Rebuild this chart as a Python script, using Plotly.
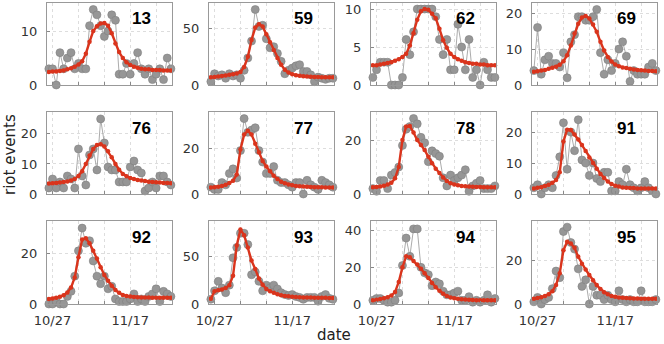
import pandas as pd
import plotly.graph_objects as go
from plotly.subplots import make_subplots

# daily riot events per department (grey) and the fitted curve (red)
dates = pd.date_range("2005-10-26", periods=34)

departments = ["13", "59", "62", "69", "76", "77", "78", "91", "92", "93", "94", "95"]

events_13 = [3, 3, 0, 6, 3, 5, 6, 3, 4, 3, 3, 11, 14, 13, 11, 9, 10, 13, 12, 2, 2, 4, 2, 4, 6, 3, 2, 3, 1, 2, 3, 1, 5, 3]
fit_13 = [2.4, 2.5, 2.5, 2.6, 2.7, 2.9, 3.1, 3.4, 3.8, 4.4, 5.8, 8.0, 10.0, 10.9, 11.4, 11.5, 11.0, 9.6, 7.7, 6.1,
          5.0, 4.2, 3.7, 3.4, 3.2, 3.0, 2.9, 2.9, 2.8, 2.8, 2.8, 2.7, 2.7, 2.7]

events_59 = [3, 10, 8, 9, 6, 10, 8, 9, 6, 13, 24, 39, 67, 52, 53, 41, 33, 34, 28, 21, 10, 13, 15, 17, 18, 12, 12, 9, 3, 7, 6, 5, 6, 6]
fit_59 = [6.8, 7.2, 7.6, 8.0, 8.5, 9.0, 9.6, 10.3, 11.5, 16, 25, 40, 51, 54, 52, 45, 38, 31, 24, 18,
          13.5, 11, 9.5, 8.7, 8.2, 7.8, 7.5, 7.3, 7.1, 7.0, 6.9, 6.8, 6.8, 6.8]

events_62 = [1, 2, 3, 3, 3, 0, 0, 0, 1, 6, 4, 7, 10, 10, 10, 10, 10, 9, 6, 4, 6, 2, 2, 8, 5, 2, 6, 1, 2, 0, 3, 2, 1, 1]
fit_62 = [2.6, 2.6, 2.7, 2.8, 2.9, 3.0, 3.2, 3.4, 3.7, 4.1, 5.2, 6.8, 8.6, 9.7, 10.0, 9.9, 9.4, 8.8, 7.4, 5.9,
          4.9, 4.1, 3.7, 3.4, 3.2, 3.0, 2.9, 2.8, 2.8, 2.7, 2.7, 2.6, 2.6, 2.6]

events_69 = [4, 16, 3, 7, 8, 6, 6, 5, 9, 2, 12, 14, 19, 19, 18, 18, 19, 21, 9, 3, 7, 4, 6, 10, 12, 8, 1, 4, 3, 3, 3, 5, 6, 4]
fit_69 = [3.7, 3.8, 4.0, 4.2, 4.5, 4.8, 5.1, 5.6, 6.6, 8.3, 11, 14.3, 17, 18.8, 19.2, 18.5, 16.8, 14.8, 12, 9.6,
          7.8, 6.5, 5.7, 5.2, 4.9, 4.7, 4.5, 4.3, 4.2, 4.1, 4.0, 3.9, 3.9, 3.8]

events_76 = [2, 5, 2, 4, 2, 6, 5, 2, 15, 6, 3, 13, 15, 8, 25, 17, 9, 8, 8, 4, 4, 4, 9, 11, 8, 7, 1, 2, 4, 2, 6, 6, 4, 3]
fit_76 = [3.5, 3.6, 3.7, 3.8, 4.0, 4.2, 4.5, 5.0, 6.0, 7.6, 10.0, 12.8, 15.0, 16.3, 16.6, 15.8, 14.2, 12.2, 10.0, 8.1,
          6.7, 5.9, 5.3, 5.0, 4.7, 4.5, 4.3, 4.1, 4.0, 3.9, 3.8, 3.7, 3.7, 3.6]

events_77 = [3, 2, 2, 5, 4, 9, 11, 7, 19, 33, 27, 28, 29, 19, 14, 9, 9, 12, 6, 5, 5, 4, 3, 5, 5, 0, 6, 4, 3, 2, 6, 5, 4, 3]
fit_77 = [2.9, 3.0, 3.2, 3.5, 4.0, 4.8, 5.8, 8.5, 19.5, 26.0, 27.7, 26.0, 22.0, 18.3, 14.5, 12.0, 10.0, 8.0, 6.6, 5.4,
          4.7, 4.2, 3.8, 3.5, 3.4, 3.3, 3.2, 3.1, 3.0, 3.0, 3.0, 2.9, 2.9, 2.9]

events_78 = [2, 1, 5, 5, 2, 7, 8, 10, 18, 24, 25, 28, 26, 21, 19, 12, 16, 15, 14, 6, 3, 7, 5, 6, 7, 9, 1, 3, 4, 5, 2, 2, 2, 3]
fit_78 = [2.5, 2.6, 2.8, 3.1, 3.5, 4.2, 5.8, 10.0, 20.0, 25.0, 25.2, 22.8, 20.0, 18.2, 16.3, 13.8, 11.4, 9.4, 7.8, 6.1,
          4.8, 4.0, 3.5, 3.2, 3.0, 2.9, 2.8, 2.7, 2.6, 2.6, 2.5, 2.5, 2.5, 2.5]

events_91 = [2, 3, 0, 2, 3, 2, 6, 12, 23, 8, 20, 14, 24, 11, 10, 6, 10, 5, 4, 7, 7, 1, 1, 4, 3, 8, 3, 2, 1, 2, 4, 2, 1, 0]
fit_91 = [1.8, 2.0, 2.2, 2.6, 3.0, 3.6, 4.5, 7.0, 17.0, 20.8, 20.7, 19.2, 17.6, 15.8, 13.9, 11.8, 10.0, 8.2, 6.5, 5.2,
          4.0, 3.2, 2.7, 2.4, 2.1, 2.0, 1.9, 1.9, 1.8, 1.8, 1.8, 1.8, 1.8, 1.8]

events_92 = [0, 0, 1, 0, 0, 3, 5, 11, 21, 30, 24, 25, 17, 11, 8, 11, 6, 7, 2, 1, 1, 1, 2, 4, 1, 2, 1, 3, 4, 6, 1, 5, 4, 3]
fit_92 = [2.0, 2.2, 2.5, 2.9, 3.5, 4.5, 6.5, 10.5, 18.5, 25.5, 26.0, 24.0, 21.0, 18.0, 14.5, 11.5, 9.2, 7.2, 5.5, 4.4,
          3.6, 3.2, 3.0, 2.8, 2.7, 2.6, 2.6, 2.6, 2.5, 2.5, 2.5, 2.5, 2.5, 2.5]

events_93 = [5, 14, 24, 17, 12, 20, 49, 60, 75, 75, 63, 31, 34, 24, 14, 20, 17, 20, 16, 12, 10, 9, 10, 8, 7, 5, 7, 7, 7, 3, 8, 10, 6, 5]
fit_93 = [5.5, 13.5, 14.5, 15.5, 17.0, 20.0, 30.0, 62.0, 79.0, 73.0, 60.0, 46.0, 37.0, 27.0, 20.5, 16.0, 13.5, 11.8, 10.3, 9.3,
          8.6, 8.1, 7.7, 7.4, 7.2, 7.0, 6.9, 6.8, 6.7, 6.6, 6.5, 6.5, 6.4, 6.4]

events_94 = [2, 3, 3, 2, 1, 1, 2, 6, 21, 36, 26, 41, 41, 20, 17, 16, 10, 12, 11, 7, 5, 5, 6, 7, 2, 2, 4, 1, 2, 1, 2, 5, 1, 3]
fit_94 = [2.0, 2.3, 2.7, 3.1, 3.7, 4.6, 6.5, 12.0, 20.0, 26.0, 25.5, 23.5, 21.5, 19.2, 16.8, 14.2, 11.5, 9.2, 7.2, 5.6,
          4.4, 3.6, 3.1, 2.8, 2.6, 2.4, 2.3, 2.2, 2.1, 2.1, 2.0, 2.0, 2.0, 2.0]

events_95 = [1, 3, 0, 2, 3, 7, 15, 12, 33, 35, 28, 25, 16, 8, 11, 0, 8, 4, 4, 2, 4, 2, 1, 6, 2, 1, 2, 1, 1, 6, 1, 1, 1, 2]
fit_95 = [2.4, 2.7, 3.1, 3.6, 4.4, 5.8, 8.7, 14.0, 24.5, 28.3, 27.6, 25.6, 21.5, 18.3, 15.7, 13.2, 10.8, 8.6, 6.8, 5.4,
          4.4, 3.7, 3.3, 3.0, 2.8, 2.7, 2.6, 2.5, 2.5, 2.4, 2.4, 2.4, 2.4, 2.4]

events = [events_13, events_59, events_62, events_69, events_76, events_77,
          events_78, events_91, events_92, events_93, events_94, events_95]
fits = [fit_13, fit_59, fit_62, fit_69, fit_76, fit_77,
        fit_78, fit_91, fit_92, fit_93, fit_94, fit_95]

y_max = [15.2, 72.8, 10.8, 22.8, 27.3, 35.9, 30.4, 26.5, 32.8, 88, 45.3, 37.8]
y_step = [10, 50, 5, 10, 10, 20, 20, 10, 20, 50, 20, 20]

week_ticks = ["2005-10-27", "2005-11-03", "2005-11-10", "2005-11-17", "2005-11-24"]
week_labels = ["10/27", "", "", "11/17", ""]

W, H = 664, 344
col_px = [(47, 172), (209, 334), (371, 496), (532, 657)]
row_px = [(3, 85), (112, 194), (221, 304)]

GREY = "rgb(150,150,150)"
RED = "rgb(218,52,28)"

fig = make_subplots(rows=3, cols=4)

for k, dep in enumerate(departments):
    r, c = divmod(k, 4)
    fig.add_trace(go.Scatter(
        x=dates, y=events[k], mode="lines+markers",
        line=dict(color=GREY, width=0.8),
        marker=dict(size=8, color=GREY, line=dict(color="rgb(128,128,128)", width=0.6)),
        cliponaxis=False, showlegend=False), row=r + 1, col=c + 1)
    fig.add_trace(go.Scatter(
        x=dates, y=fits[k], mode="lines+markers",
        line=dict(color=RED, width=2.4),
        marker=dict(size=4.5, color=RED),
        cliponaxis=False, showlegend=False), row=r + 1, col=c + 1)

    n = "" if k == 0 else str(k + 1)
    x0, x1 = col_px[c]
    y0, y1 = row_px[r]
    fig.layout["xaxis" + n].update(
        domain=[x0 / W, x1 / W], automargin=False,
        range=["2005-10-25 12:00", "2005-11-28 07:00"],
        tickvals=week_ticks,
        ticktext=week_labels if r == 2 else [""] * 5,
        ticks="inside", ticklen=3, tickcolor="#888",
        showline=True, mirror=True, linecolor="#999", linewidth=1,
        showgrid=True, gridcolor="#dddddd", griddash="dot", gridwidth=1,
        zeroline=False, ticklabelstandoff=4,
        tickfont=dict(family="DejaVu Sans", size=13, color="#333"))
    fig.layout["yaxis" + n].update(
        domain=[1 - y1 / H, 1 - y0 / H], automargin=False,
        range=[0, y_max[k]], dtick=y_step[k], tick0=0,
        ticks="inside", ticklen=3, tickcolor="#888",
        showline=True, mirror=True, linecolor="#999", linewidth=1,
        showgrid=True, gridcolor="#dddddd", griddash="dot", gridwidth=1,
        zeroline=False, ticklabelstandoff=6,
        tickfont=dict(family="DejaVu Sans", size=13, color="#333"))
    fig.add_annotation(
        text="<b>" + dep + "</b>", xref="paper", yref="paper",
        x=(x1 - 19) / W, y=1 - (y0 + 16) / H, xanchor="right", yanchor="middle",
        showarrow=False, font=dict(family="Liberation Sans", size=17, color="black"))

fig.add_annotation(text="riot events", xref="paper", yref="paper", x=10 / W, y=1 - 155 / H,
                   textangle=-90, showarrow=False, xanchor="center", yanchor="middle",
                   font=dict(family="DejaVu Sans", size=15, color="#222"))
fig.add_annotation(text="date", xref="paper", yref="paper", x=334 / W, y=1 - 335 / H,
                   showarrow=False, xanchor="center", yanchor="middle",
                   font=dict(family="DejaVu Sans", size=15, color="#222"))

fig.update_layout(width=W, height=H, margin=dict(l=0, r=0, t=0, b=0),
                  plot_bgcolor="white", paper_bgcolor="white")

# the page's default body margin would push the figure 8px off the window
fig.write_html("out.html", config={"displayModeBar": False},
               post_script="document.body.style.margin='0px';")
